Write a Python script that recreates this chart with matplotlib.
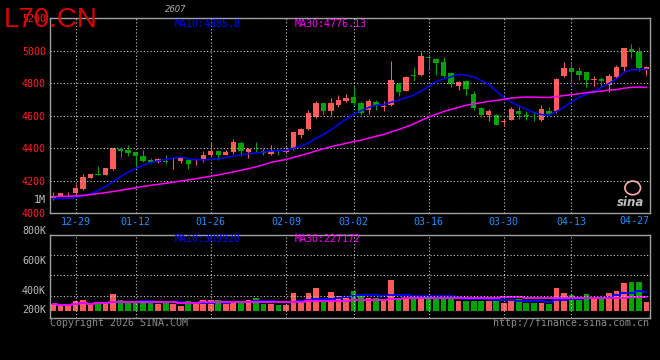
import numpy as np
import pandas as pd
import matplotlib
matplotlib.use("Agg")
import matplotlib.pyplot as plt
from matplotlib.patches import Ellipse

# daily bars, 2025-12-24 .. 2026-04-27 (80 trading days)
opens = [4091, 4108, 4116, 4122, 4150, 4218, 4242, 4238, 4270, 4397,
         4387, 4375, 4354, 4330, 4314, 4322, 4314, 4322, 4326, 4320,
         4326, 4357, 4381, 4361, 4375, 4430, 4375, 4385, 4383, 4367,
         4385, 4379, 4397, 4479, 4520, 4591, 4675, 4626, 4667, 4693,
         4712, 4680, 4632, 4683, 4655, 4663, 4797, 4754, 4848, 4852,
         4960, 4950, 4932, 4865, 4785, 4815, 4736, 4650, 4601, 4603,
         4563, 4571, 4626, 4603, 4599, 4571, 4626, 4626, 4842, 4891,
         4877, 4867, 4822, 4826, 4791, 4836, 4897, 5009, 4993, 4887]
highs = [4128, 4126, 4130, 4179, 4240, 4244, 4289, 4281, 4403, 4408,
         4418, 4378, 4387, 4338, 4342, 4356, 4346, 4346, 4340, 4336,
         4383, 4438, 4391, 4391, 4455, 4442, 4403, 4436, 4403, 4418,
         4397, 4408, 4499, 4524, 4632, 4693, 4679, 4710, 4724, 4734,
         4785, 4690, 4705, 4695, 4687, 4938, 4808, 4842, 4897, 4989,
         4972, 4953, 4962, 4870, 4812, 4818, 4750, 4655, 4642, 4612,
         4581, 4652, 4667, 4626, 4618, 4663, 4652, 4830, 4928, 4918,
         4901, 4871, 4842, 4836, 4856, 4911, 5018, 5040, 5024, 4907]
lows = [4081, 4104, 4101, 4112, 4142, 4215, 4234, 4234, 4265, 4346,
        4352, 4285, 4316, 4306, 4306, 4305, 4275, 4306, 4275, 4295,
        4316, 4346, 4326, 4357, 4367, 4353, 4340, 4371, 4361, 4357,
        4357, 4371, 4391, 4465, 4510, 4587, 4605, 4605, 4652, 4683,
        4663, 4605, 4612, 4635, 4626, 4657, 4718, 4752, 4815, 4846,
        4887, 4850, 4836, 4779, 4755, 4724, 4636, 4591, 4568, 4540,
        4540, 4571, 4581, 4571, 4565, 4569, 4601, 4618, 4836, 4795,
        4816, 4775, 4781, 4785, 4746, 4830, 4877, 4952, 4877, 4850]
closes = [4107, 4122, 4119, 4155, 4220, 4240, 4238, 4277, 4399, 4381,
          4371, 4354, 4320, 4314, 4332, 4318, 4318, 4340, 4305, 4323,
          4361, 4383, 4357, 4377, 4436, 4383, 4395, 4381, 4371, 4383,
          4381, 4391, 4497, 4516, 4616, 4675, 4626, 4675, 4699, 4707,
          4677, 4615, 4693, 4660, 4658, 4816, 4744, 4835, 4844, 4968,
          4956, 4926, 4846, 4793, 4809, 4762, 4647, 4602, 4626, 4545,
          4567, 4638, 4608, 4599, 4595, 4638, 4608, 4826, 4891, 4867,
          4850, 4822, 4828, 4812, 4842, 4901, 5016, 4989, 4890, 4901]
volumes = [120e3, 78e3, 78e3, 160e3, 177e3, 120e3, 137e3, 120e3, 276e3, 177e3,
           137e3, 132e3, 160e3, 132e3, 120e3, 137e3, 120e3, 78e3, 160e3, 120e3,
           177e3, 177e3, 177e3, 120e3, 160e3, 160e3, 177e3, 210e3, 120e3, 120e3,
           94e3, 94e3, 292e3, 177e3, 292e3, 375e3, 149e3, 312e3, 245e3, 210e3,
           330e3, 248e3, 219e3, 210e3, 173e3, 512e3, 206e3, 206e3, 190e3, 231e3,
           239e3, 193e3, 210e3, 215e3, 162e3, 162e3, 162e3, 162e3, 157e3, 162e3,
           132e3, 198e3, 198e3, 132e3, 124e3, 127e3, 119e3, 371e3, 289e3, 264e3,
           182e3, 281e3, 231e3, 198e3, 297e3, 330e3, 462e3, 479e3, 479e3, 149e3]

# moving averages before a full window exists
ma10_head = [4090, 4090, 4092, 4096, 4106, 4120, 4140, 4165, 4195]
ma30_head = [4103, 4104, 4105, 4107, 4110, 4115, 4121, 4127, 4134, 4141,
             4149, 4157, 4165, 4172, 4178, 4184, 4191, 4198, 4205, 4212,
             4220, 4228, 4236, 4245, 4254, 4264, 4274, 4285, 4298]

tick_idx = [3, 11, 21, 31, 40, 50, 60, 69]
tick_lbl = ["12-29", "01-12", "01-26", "02-09", "03-02", "03-16", "03-30", "04-13"]
last_lbl = "04-27"
price_ticks = [4000, 4200, 4400, 4600, 4800, 5000, 5200]
vol_lbl = ["800K", "600K", "400K", "200K"]

UP = "#ff5b5b"
DOWN = "#00a400"
GRID = "#c8c8c8"
EDGE = "#a0a0a0"
MONO = "DejaVu Sans Mono"

opens = np.array(opens, float)
closes = np.array(closes, float)
highs = np.array(highs, float)
lows = np.array(lows, float)
volumes = np.array(volumes, float)
x = np.arange(len(closes))
col = np.where(closes >= opens, UP, DOWN)

ma10 = pd.Series(closes).rolling(10).mean().to_numpy()
ma10[:9] = ma10_head
ma30 = pd.Series(closes).rolling(30).mean().to_numpy()
ma30[:29] = ma30_head
vma10 = pd.Series(volumes).rolling(10, min_periods=1).mean()
vma30 = pd.Series(volumes).rolling(30, min_periods=1).mean()

W, H = 660, 360
fig = plt.figure(figsize=(6.6, 3.6), dpi=100, facecolor="black")


def fx(px):
    return px / W


def fy(py):
    return 1 - py / H


ax1 = fig.add_axes([fx(50), fy(213.3), 599.5 / W, 195.3 / H])
ax2 = fig.add_axes([fx(50), fy(318.3), 599.5 / W, 83.6 / H])

for ax in (ax1, ax2):
    ax.set_facecolor("black")
    for s in ax.spines.values():
        s.set_color(EDGE)
        s.set_linewidth(1)
    ax.set_xlim(-0.4, len(x) - 0.6)
    ax.set_xticks(tick_idx)
    ax.tick_params(length=0)
    ax.grid(axis="x", color=GRID, lw=0.8, ls=(0, (1, 2)))

# price panel
ax1.vlines(x, lows, highs, color=col, lw=0.75)
body = np.maximum(np.abs(closes - opens), 4)
ax1.bar(x, body, bottom=np.minimum(opens, closes), width=0.72, color=col, lw=0)
ax1.plot(x, ma10, color="#0000ff", lw=1.1)
ax1.plot(x, ma30, color="#ff00ff", lw=1.1)
ax1.set_ylim(4000, 5200)
ax1.set_yticks(price_ticks)
ax1.set_yticklabels([str(p) for p in price_ticks], color="#ff2020",
                    fontfamily=MONO, fontsize=7.2)
ax1.tick_params(axis="y", pad=3)
ax1.grid(axis="y", color=GRID, lw=0.8, ls=(0, (1, 2)))
ax1.set_xticklabels(tick_lbl, color="#2090ff", fontfamily=MONO, fontsize=7.2)
ax1.tick_params(axis="x", pad=2.5)
fig.text(fx(649), fy(221.5), last_lbl, ha="right", va="center",
         color="#2090ff", fontfamily=MONO, fontsize=7.2)

# sina logo
ax1.add_patch(Ellipse((0.972, 0.13), 0.026, 0.07, transform=ax1.transAxes,
                      fill=False, ec="#ffb0b0", lw=1.2))
ax1.text(0.968, 0.035, "sina", transform=ax1.transAxes, ha="center",
         color="#bdbdbd", fontsize=8.5, fontweight="bold", style="italic")

# volume panel
ax2.bar(x, volumes, width=0.75, color=col, lw=0)
ax2.plot(x, vma10, color="#0000ff", lw=1.3, drawstyle="steps-mid")
ax2.plot(x, vma30, color="#ff00ff", lw=1.3, drawstyle="steps-mid")
ax2.set_ylim(-120e3, 1249e3)
ax2.set_yticks([])
ax2.set_xticklabels([])
for f in (0.757, 0.514, 0.270):
    ax2.plot([0, 1], [f, f], transform=ax2.transAxes, color=GRID, lw=0.8,
             ls=(0, (1, 2)))
for lab, py in zip(vol_lbl, [230.7, 260.7, 290.7, 310.0]):
    fig.text(fx(46), fy(py), lab, ha="right", va="center", color="#bbbbbb",
             fontfamily=MONO, fontsize=7.2)

# texts
fig.text(fx(4), fy(26.7), "L70.CN", color="#dd0000", fontsize=20,
         family="Liberation Sans", va="baseline")
fig.text(fx(176), fy(9.5), "2607", color="#b0b0b0", fontsize=6,
         style="italic", ha="center", va="center")
fig.text(fx(175), fy(24), "MA10:4885.8", color="#0000ff", fontfamily=MONO,
         fontsize=7.2, va="center")
fig.text(fx(295), fy(24), "MA30:4776.13", color="#ff00ff", fontfamily=MONO,
         fontsize=7.2, va="center")
fig.text(fx(175), fy(238.5), "MA10:309920", color="#0000ff", fontfamily=MONO,
         fontsize=7.2, va="center")
fig.text(fx(295), fy(238.5), "MA30:227172", color="#ff00ff", fontfamily=MONO,
         fontsize=7.2, va="center")
fig.text(fx(46), fy(200), "1M", color="#c0c0c0", fontfamily=MONO,
         fontsize=7.2, ha="right", va="center")
fig.text(fx(50), fy(323.3), "Copyright 2026 SINA.COM", color="#8a8a8a",
         fontfamily=MONO, fontsize=7.2, va="center")
fig.text(fx(649.5), fy(323.3), "http://finance.sina.com.cn", color="#8a8a8a",
         fontfamily=MONO, fontsize=7.2, ha="right", va="center")

fig.savefig("out.png", dpi=100, facecolor="black")
